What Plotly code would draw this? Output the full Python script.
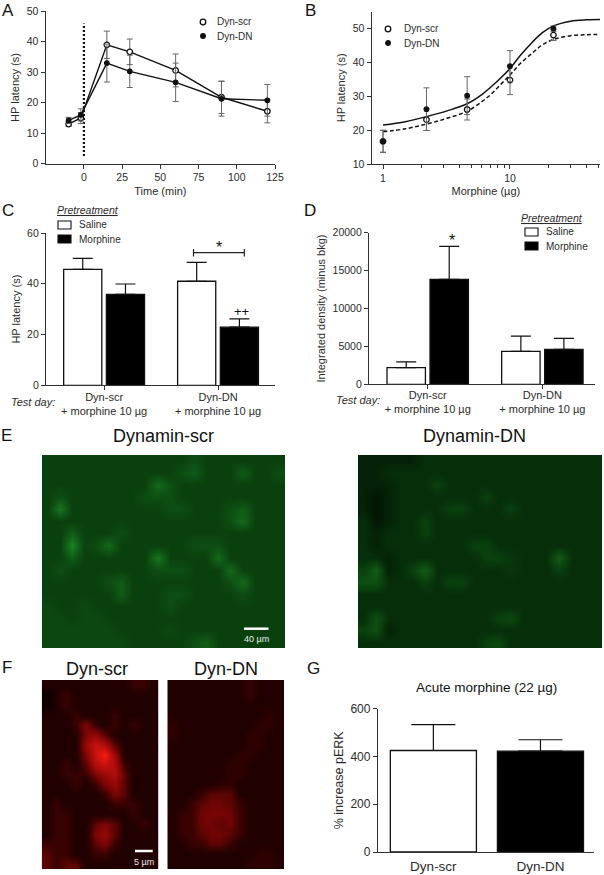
import plotly.graph_objects as go

W, H = 604, 875

# ---- Panel A
a_time = [-10, -2, 15, 30, 60, 90, 120]
a_scr = [13.0, 15.0, 39.0, 36.7, 30.6, 21.8, 17.2]
a_scr_err = [0.8, 1.8, 4.5, 4.2, 5.4, 5.3, 3.8]
a_dn = [14.2, 16.0, 33.0, 30.3, 26.7, 21.3, 20.8]
a_dn_err = [1.0, 2.0, 6.2, 5.3, 6.3, 5.7, 5.2]
a_vline_x = [0, 0]
a_vline_y = [2.5, 46]

# ---- Panel B
b_dose = [1, 2.2, 4.6, 10, 22]
b_scr = [16.7, 23.1, 26.1, 34.8, 48.1]
b_scr_err = [3.2, 3.2, 3.1, 4.3, 1.6]
b_dn = [16.7, 26.2, 30.2, 38.9, 50.0]
b_dn_err = [3.3, 6.3, 5.6, 4.6, 0.8]
b_curve_x = [1, 1.5, 2.2, 3.2, 4.6, 6, 7, 8.5, 10, 12, 15, 18, 22, 30, 40, 52]
b_curve_solid = [21.5, 22.5, 24.0, 25.7, 27.8, 30.5, 32.6, 35.5, 38.2, 42, 46, 48.8, 50.8, 52.2, 52.6, 52.7]
b_curve_dash = [19.5, 20.4, 21.8, 23.5, 25.6, 28.4, 30.4, 33.6, 36.3, 39.6, 42.8, 45.2, 46.8, 47.9, 48.2, 48.3]

# ---- Panel C
c_groups = ["Dyn-scr<br>+ morphine 10 µg", "Dyn-DN<br>+ morphine 10 µg"]
c_saline = [45.7, 41.0]
c_saline_err = [4.3, 7.4]
c_morph = [35.8, 22.9]
c_morph_err = [4.1, 3.3]

# ---- Panel D
d_groups = ["Dyn-scr<br>+ morphine 10 µg", "Dyn-DN<br>+ morphine 10 µg"]
d_saline = [2200, 4350]
d_saline_err = [750, 2000]
d_morph = [13850, 4600]
d_morph_err = [4350, 1450]

# ---- Panel G
g_groups = ["Dyn-scr", "Dyn-DN"]
g_vals = [425, 422]
g_errs = [108, 48]

# ---- Micrographs read as coarse brightness levels 0-9
e_left = [
    [3,3,3,3,3,3,3,3,3,3,3,3,4,3,3,3,3,3,3,3],
    [3,3,3,3,3,3,3,3,3,3,3,4,5,3,3,3,5,3,3,4],
    [3,3,3,3,3,3,3,3,3,6,4,3,3,3,3,3,3,3,3,3],
    [3,4,3,3,3,3,3,3,4,4,4,3,3,3,3,3,3,3,3,3],
    [3,7,3,3,3,3,3,3,3,3,4,4,3,3,3,4,5,3,3,3],
    [3,3,3,3,3,3,3,3,3,3,3,3,3,3,3,4,6,3,3,3],
    [3,3,5,3,3,3,4,3,3,3,3,3,3,3,3,3,3,3,3,3],
    [3,3,8,3,4,6,3,3,3,3,3,3,4,4,4,3,3,3,3,3],
    [3,3,5,3,3,3,3,3,3,7,3,3,3,3,6,3,3,3,3,3],
    [3,4,3,3,3,3,3,3,3,4,4,4,3,3,3,6,3,3,3,3],
    [3,3,3,3,3,4,5,3,3,3,3,3,3,3,3,4,6,3,3,3],
    [3,3,3,3,3,3,5,3,3,3,4,4,3,3,3,3,4,3,3,3],
    [3.5,3,3,3.5,3,3,3,3,3,3,4,3,3,3,3,3,3,3,3,3],
    [3.5,3.5,3,3.5,3.5,3,3,3,3,3,3,3,3,3,3,3,3,3,3,3],
    [3.5,3.5,3.5,3.5,3.5,3.5,3,3,3,3,3.5,3,3,3,3,3,3,3,3,3],
    [3.5,3.5,3.5,3.5,3.5,3.5,3.5,3,3,3,3,3,4,5,3,3,3,3,3,3],
]
e_right = [
    [1,1,1,1,1,2,2,2,2,2,2,2,2,2,2,2,2,2,2,2],
    [1,1,2,2,2,2,2,2,2,2,2,2,2,2,2,2,2,2,2,2],
    [1,1,1,2,2,2,3,2,2,2,2,2,2,2,2,2,2,2,2,2],
    [1,0,1,2,2,2,2,2,2,2,3,2,2,2,2,2,2,2,2,2],
    [1,0,1,2,2,2,2,3,3,2,2,2,3,2,2,2,2,2,2,2],
    [2,0,1,2,2,3,2,2,2,2,2,2,2,2,2,2,2,2,2,2],
    [2,1,2,2,2,3,2,2,2,2,2,2,2,2,2,2,2,2,2,2],
    [2,1,2,2,2,2,2,2,2,3,3,2,2,2,2,2,2,2,2,2],
    [2,2,1,2,2,2,2,2,2,2,3,3,2.5,2,2,2,5,2,2,2],
    [3,5,1,2,3,5,2,2,2,2,2,2,2.5,2,2,2,3,2,2,2],
    [4,4,2,2,2,3,2,3,3,2,2,2,2,2,2,2,2,2,2,2],
    [2,2,2,2,2,2,2,2,2,2,2,2,2,2,2,2,2,2,2,2],
    [2,2,2,2,2,2,2,2,2,2,2,2,2,2,2,2,2,2,2,2],
    [2,4,2,2,2,2,2,2,2,2,2,3,3.5,2,2,2,2,2,2,2],
    [3,4,1,2,2,2,2,2,2,2,2,2,2,2,2,2,2,2,2,2],
    [2,2,2,2,2,2,2,2,2,2,3,3.5,2,2,2,2,2,2,2,2],
]
f_left = [
    [1,1,1,1,1,1,1,1,1,2,2,1],
    [0,1,2,1,1,1,1,1,1,1,1,1],
    [0,1,2,1,1,1,1,1,1,1,1,1],
    [1,1,1,2,1,1,1,2,1,1,1,1],
    [1,1,1,2,4,2,1,2,1,2,1,1],
    [1,1,1,1,4,5,3,1,1,1,1,1],
    [1,1,1,1,5,7,6,3,1,1,1,1],
    [1,1,1,1,4,7,9,5,1,1,1,1],
    [1,1,2,1,3,6,7,6,2,1,1,1],
    [1,1,2,2,2,4,5,6,3,1,1,1],
    [1,1,1,2,1,2,4,5,3,1,1,1],
    [1,1,1,1,1,1,2,4,3,1,1,1],
    [1,2,1,1,1,1,1,2,2,2,1,1],
    [1,2,2,1,1,1,1,1,1,2,1,1],
    [1,2,2,1,1,3,4,3,1,1,2,1],
    [1,2,2,1,1,4,5,3,1,1,1,1],
    [2,2,2,1,1,3,4,2,1,1,1,1],
    [3,2,2,1,1,2,2,1,1,1,1,1],
    [3,2,3,3,1,1,1,1,1,1,1,1],
]
f_right = [
    [1,1,1,1,1,1,1,1,2,1,1,1],
    [1,1,1,1,1,1,1,1,2,1,1,1],
    [1,1,1,1,1,1,1,1,1,1,1,1],
    [1,1,1,1,1,1,1,1,1,1,1.6,1],
    [1.6,1,1,1,1,1,1,1,1,1.6,1.6,1],
    [1.6,1,1,1,1,1,1,1,1.6,1.6,1,1],
    [1,1,1,1,1,1,1,1,1.6,1.6,1,1],
    [1,1,1,1,1,1,1,1.6,1.6,1,1,1],
    [1,1,1,1,1,1,1.6,1.6,1,1,1,1],
    [1,1,1,1,1,1,1.6,1.6,1,1,1,1],
    [1,1,1,1,1,1.6,1.6,1,1,1,1,1],
    [1,1,1,2,3,3,3,1,1,1,1,1],
    [1,1,2,3,3.6,3.6,3,2,1,1,1,1],
    [1,2,2,3.6,3.8,3.8,3.6,2,1,1,1,1],
    [1,2,2,3.6,3.6,3,3.6,2,1,1,1,1],
    [1,2,2,3,3.6,3.6,3,2,1,1,1,1],
    [1,1,2,2,3,3,2,1,1,1,1,1],
    [1,1,1,1,1,1,1,1,1,1.6,1.6,1],
    [1,1,1,1,1,1,1,1,1.6,1.6,1.6,1],
]

# ---- styling helpers
FONT = "Liberation Sans, Arial, sans-serif"
TXT = "#2b2b2b"
AX = "#333333"
GREEN = [[0, "rgb(2,22,4)"], [0.22, "rgb(6,46,9)"], [0.33, "rgb(10,64,14)"], [1, "rgb(30,145,40)"]]
RED = [[0, "rgb(12,0,0)"], [0.11, "rgb(32,0,0)"], [0.22, "rgb(55,2,2)"], [0.44, "rgb(125,5,5)"], [1, "rgb(250,25,20)"]]


def hdom(x0, x1):
    return [x0 / W, x1 / W]


def vdom(y0, y1):
    return [1 - y1 / H, 1 - y0 / H]


def axis(domain, **kw):
    d = dict(domain=domain, showgrid=False, zeroline=False, showline=True, automargin=False,
             linecolor=AX, linewidth=1.3, ticks="outside", ticklen=4, tickwidth=1.2,
             tickcolor=AX, tickfont=dict(size=10.5, color=TXT, family=FONT),
             title=dict(font=dict(size=11, color=TXT, family=FONT), standoff=4))
    d.update(kw)
    return d


def hidden(domain, **kw):
    d = dict(domain=domain, visible=False, showgrid=False, zeroline=False, automargin=False)
    d.update(kw)
    return d


fig = go.Figure()
ann = []
shp = []


def text(x, y, s, size=10.5, color=TXT, anchor="center"):
    ann.append(dict(x=x / W, y=1 - y / H, xref="paper", yref="paper", text=s, showarrow=False,
                    xanchor=anchor, yanchor="middle", font=dict(size=size, color=color, family=FONT)))


def pxline(x0, y0, x1, y1, color="#222222", width=1.2):
    shp.append(dict(type="line", xref="paper", yref="paper", x0=x0 / W, x1=x1 / W,
                    y0=1 - y0 / H, y1=1 - y1 / H, line=dict(color=color, width=width)))


def swatch(x0, y0, x1, y1, fill):
    shp.append(dict(type="rect", xref="paper", yref="paper", x0=x0 / W, x1=x1 / W,
                    y0=1 - y0 / H, y1=1 - y1 / H, fillcolor=fill, line=dict(color="#111111", width=1.1)))


def dot(x, y, fill, r=2.8):
    shp.append(dict(type="circle", xref="paper", yref="paper", x0=(x - r) / W, x1=(x + r) / W,
                    y0=1 - (y - r) / H, y1=1 - (y + r) / H, fillcolor=fill,
                    line=dict(color="#111111", width=1.3)))


def err(vals, color="#666666", width=3):
    return dict(type="data", array=vals, symmetric=True, color=color, thickness=1, width=width)


def series(x, y, e, fill, xa, ya, mode="lines+markers", name="", size=5.5):
    fig.add_trace(go.Scatter(x=x, y=y, mode=mode, name=name, xaxis=xa, yaxis=ya, error_y=err(e),
                             line=dict(color="#111111", width=1.4),
                             marker=dict(size=size, color=fill, line=dict(color="#111111", width=1.3)),
                             showlegend=False))


def bars(cats, vals, errs, fill, xa, ya, name, cap):
    fig.add_trace(go.Bar(x=cats, y=vals, name=name, xaxis=xa, yaxis=ya, marker=dict(
        color=fill, line=dict(color="#111111", width=1.3)),
        error_y=dict(type="data", array=errs, arrayminus=[0] * len(errs), symmetric=False,
                     color="#111111", thickness=1.2, width=cap), showlegend=False))


# A
fig.add_trace(go.Scatter(x=a_vline_x, y=a_vline_y, mode="lines", xaxis="x", yaxis="y", showlegend=False,
                         line=dict(color="#111111", width=2.2, dash="2px,2px")))
series(a_time, a_scr, a_scr_err, "white", "x", "y", name="Dyn-scr")
series(a_time, a_dn, a_dn_err, "#111111", "x", "y", name="Dyn-DN", size=4.5)

# B
fig.add_trace(go.Scatter(x=b_curve_x, y=b_curve_solid, mode="lines", xaxis="x2", yaxis="y2", showlegend=False,
                         line=dict(color="#111111", width=1.5, shape="spline")))
fig.add_trace(go.Scatter(x=b_curve_x, y=b_curve_dash, mode="lines", xaxis="x2", yaxis="y2", showlegend=False,
                         line=dict(color="#111111", width=1.5, dash="4px,2.5px", shape="spline")))
series(b_dose, b_scr, b_scr_err, "white", "x2", "y2", mode="markers", name="Dyn-scr")
series(b_dose, b_dn, b_dn_err, "#111111", "x2", "y2", mode="markers", name="Dyn-DN", size=4.5)

# C
bars(c_groups, c_saline, c_saline_err, "white", "x3", "y3", "Saline", 10)
bars(c_groups, c_morph, c_morph_err, "#000000", "x3", "y3", "Morphine", 10)
# D
bars(d_groups, d_saline, d_saline_err, "white", "x4", "y4", "Saline", 10)
bars(d_groups, d_morph, d_morph_err, "#000000", "x4", "y4", "Morphine", 10)
# G
fig.add_trace(go.Bar(x=g_groups, y=g_vals, xaxis="x9", yaxis="y9", showlegend=False, width=0.804,
                     marker=dict(color=["white", "#000000"], line=dict(color="#111111", width=1.3)),
                     error_y=dict(type="data", array=g_errs, arrayminus=[0, 0], symmetric=False,
                                  color="#111111", thickness=1.2, width=22)))


def image(z, scale, xa, ya):
    fig.add_trace(go.Heatmap(z=z, colorscale=scale, zmin=0, zmax=9, showscale=False, zsmooth="best",
                             xaxis=xa, yaxis=ya, hoverinfo="skip"))


image(e_left, GREEN, "x5", "y5")
image(e_right, GREEN, "x6", "y6")
image(f_left, RED, "x7", "y7")
image(f_right, RED, "x8", "y8")

# Panel letters
for s, x, y in [("A", 8, 10), ("B", 310, 10), ("C", 8, 210), ("D", 310, 210), ("E", 6, 436), ("F", 7, 667), ("G", 313, 668)]:
    text(x, y, s, size=17, color="#111111")

# A legend
dot(203, 22, "white")
dot(203, 36, "#111111", 2.3)
text(215, 22, "Dyn-scr", 10, anchor="left")
text(215, 36, "Dyn-DN", 10, anchor="left")
# B legend
dot(388, 29, "white")
dot(388, 43, "#111111", 2.3)
text(402, 29, "Dyn-scr", 10, anchor="left")
text(402, 43, "Dyn-DN", 10, anchor="left")
# C legend + notes
text(55, 210, "<i><u>Pretreatment</u></i>", 10.5, anchor="left")
swatch(58, 221, 71, 229, "white")
swatch(58, 235, 71, 243, "#000000")
text(77, 225, "Saline", 10, anchor="left")
text(77, 239, "Morphine", 10, anchor="left")
pxline(193.5, 252.7, 244.3, 252.7)
pxline(193.5, 249, 193.5, 256.5)
pxline(244.3, 249, 244.3, 256.5)
text(219, 248, "*", 16, "#111111")
text(241.5, 311, "++", 13, "#111111")
text(33, 402, "<i>Test day:</i>", 11)
# D legend + notes
text(519, 218, "<i><u>Pretreatment</u></i>", 10.5, anchor="left")
swatch(525, 228, 538, 236, "white")
swatch(525, 242, 538, 250, "#000000")
text(544, 232, "Saline", 10, anchor="left")
text(544, 246, "Morphine", 10, anchor="left")
text(452, 241, "*", 16, "#111111")
text(358, 400, "<i>Test day:</i>", 11)
# E, F titles and scale bars
text(163, 436, "Dynamin-scr", 18, "#111111")
text(474, 436, "Dynamin-DN", 18, "#111111")
pxline(244, 628.7, 268.5, 628.7, "white", 2.5)
text(256, 639, "40 µm", 9, "#e8f0e8")
text(97, 669, "Dyn-scr", 18, "#111111")
text(226, 669, "Dyn-DN", 18, "#111111")
pxline(135, 851, 152.7, 851, "white", 2.5)
text(143.5, 862, "5 µm", 9, "#f0e8e8")
text(486.7, 687, "Acute morphine (22 µg)", 13.5, "#111111")

CAT_FONT = dict(size=11, color=TXT, family=FONT)

fig.update_layout(
    template="none",
    width=W, height=H, autosize=False, margin=dict(l=0, r=0, t=0, b=0),
    paper_bgcolor="white", plot_bgcolor="white", barmode="group", bargap=0.25, bargroupgap=0.107,
    font=dict(family=FONT, color=TXT), annotations=ann, shapes=shp,
    xaxis=axis(hdom(45.7, 275), anchor="y", range=[-25, 125], tickvals=[0, 25, 50, 75, 100, 125],
               title_text="Time (min)"),
    yaxis=axis(vdom(11.3, 163.7), anchor="x", range=[0, 50], tickvals=[0, 10, 20, 30, 40, 50],
               title_text="HP latency (s)"),
    xaxis2=axis(hdom(371.7, 600), anchor="y2", type="log", range=[-0.089, 1.709], tickvals=[1, 10],
                ticktext=["1", "10"], title_text="Morphine (µg)",
                minor=dict(ticks="outside", ticklen=2.5, tickcolor=AX,
                           tickvals=[2, 3, 4, 5, 6, 7, 8, 9, 20, 30, 40, 50])),
    yaxis2=axis(vdom(11.7, 164), anchor="x2", range=[10, 55], tickvals=[10, 20, 30, 40, 50],
                title_text="HP latency (s)"),
    xaxis3=axis(hdom(46, 275), anchor="y3", range=[-0.51, 1.5], tickfont=CAT_FONT, ticklabelstandoff=-3),
    yaxis3=axis(vdom(233, 385.3), anchor="x3", range=[0, 60], tickvals=[0, 20, 40, 60],
                title_text="HP latency (s)"),
    xaxis4=axis(hdom(369, 595), anchor="y4", range=[-0.512, 1.459], tickfont=CAT_FONT, ticklabelstandoff=-4),
    yaxis4=axis(vdom(232.7, 384.3), anchor="x4", range=[0, 20000], tickvals=[0, 5000, 10000, 15000, 20000],
                tickformat="d", title_text="Integrated density (minus bkg)"),
    xaxis5=hidden(hdom(42, 285), anchor="y5", range=[-0.5, 19.5]),
    yaxis5=hidden(vdom(455, 648), anchor="x5", range=[15.5, -0.5]),
    xaxis6=hidden(hdom(358, 602), anchor="y6", range=[-0.5, 19.5]),
    yaxis6=hidden(vdom(455, 648), anchor="x6", range=[15.5, -0.5]),
    xaxis7=hidden(hdom(41.7, 158.3), anchor="y7", range=[-0.5, 11.5]),
    yaxis7=hidden(vdom(680, 869), anchor="x7", range=[18.5, -0.5]),
    xaxis8=hidden(hdom(167.3, 284), anchor="y8", range=[-0.5, 11.5]),
    yaxis8=hidden(vdom(680, 869), anchor="x8", range=[18.5, -0.5]),
    xaxis9=axis(hdom(378, 594), anchor="y9", range=[-0.517, 1.5], ticks="", ticklabelstandoff=2,
                tickfont=dict(size=13.5, color=TXT, family=FONT)),
    yaxis9=axis(vdom(708.7, 852), anchor="x9", range=[0, 600], tickvals=[0, 200, 400, 600],
                title_text="% increase pERK", tickfont=dict(size=12, color=TXT, family=FONT),
                title_font=dict(size=12.5, color=TXT, family=FONT)),
)

fig.write_html("out.html", post_script="document.body.style.margin='0';",
               config=dict(displayModeBar=False))
